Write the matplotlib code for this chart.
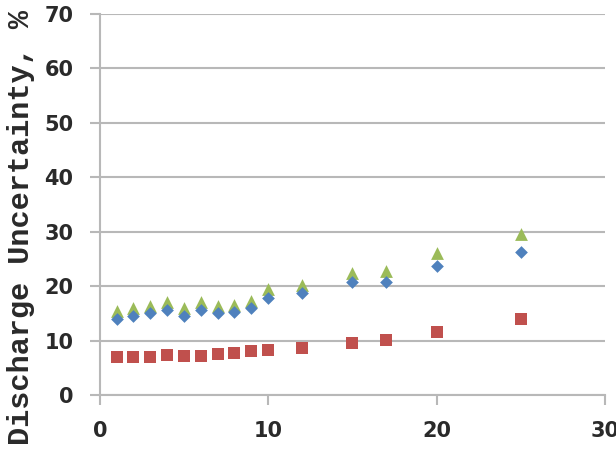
import matplotlib.pyplot as plt

# Discharge uncertainty data
x = [1, 2, 3, 4, 5, 6, 7, 8, 9, 10, 12, 15, 17, 20, 25]
blue = [13.9, 14.5, 15.0, 15.6, 14.5, 15.6, 15.0, 15.3, 15.9, 17.9, 18.7, 20.7, 20.7, 23.7, 26.2]
green = [15.5, 15.9, 16.4, 17.0, 15.9, 17.1, 16.4, 16.5, 17.3, 19.4, 20.3, 22.5, 22.8, 26.1, 29.6]
red = [7.0, 7.0, 7.0, 7.4, 7.2, 7.2, 7.5, 7.8, 8.0, 8.2, 8.7, 9.5, 10.2, 11.5, 13.9]

x_ticks = [0, 10, 20, 30]
y_ticks = [0, 10, 20, 30, 40, 50, 60, 70]

fig = plt.figure(figsize=(6.16, 4.53), dpi=100)
ax = fig.add_axes([0.162, 0.128, 0.82, 0.841])

grid_col = "#b8b8b8"

# series
ax.scatter(x, red, marker="s", s=85, color="#c0504d", zorder=3, linewidths=0)
ax.scatter(x, green, marker="^", s=85, color="#9bbb59", zorder=3, linewidths=0)
ax.scatter(x, blue, marker="D", s=42, color="#4f81bd", zorder=4, linewidths=0)

ax.set_xlim(0, 30)
ax.set_ylim(0, 70)
ax.set_xticks(x_ticks)
ax.set_yticks(y_ticks)

ax.yaxis.grid(True, color=grid_col, linewidth=1.5)
ax.set_axisbelow(True)

for side in ["top", "right"]:
    ax.spines[side].set_visible(False)
for side in ["left", "bottom"]:
    ax.spines[side].set_color(grid_col)
    ax.spines[side].set_linewidth(1.5)

ax.tick_params(axis="both", color=grid_col, width=1.5, length=7, pad=12,
               labelsize=15, labelcolor="#2a2a2a")
for lbl in ax.get_xticklabels() + ax.get_yticklabels():
    lbl.set_fontweight("bold")
    lbl.set_family("DejaVu Sans")

ax.set_ylabel("Discharge Uncertainty, %", fontsize=21.8, fontweight="bold",
              family="Liberation Mono", color="#2a2a2a")
ax.yaxis.set_label_coords(-0.128, 0.44)

fig.savefig("out.png", dpi=100)
